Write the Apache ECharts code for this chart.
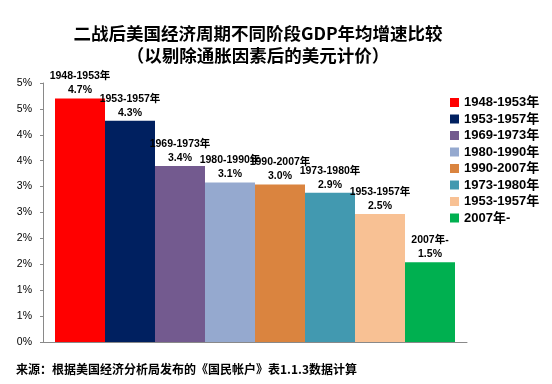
<!DOCTYPE html>
<html>
<head>
<meta charset="utf-8">
<script src="https://cdn.jsdelivr.net/npm/echarts@6/dist/echarts.min.js"></script>
<style>html,body{margin:0;padding:0;background:#fff}#c{width:552px;height:384px}</style>
</head>
<body>
<div id="c"></div>
<script>
// Period names (the duplicate "1953-1957年" is kept distinct with a trailing space)
const periods = ['1948-1953年', '1953-1957年', '1969-1973年', '1980-1990年', '1990-2007年', '1973-1980年', '1953-1957年 ', '2007年-'];
// Average annual GDP growth (%)
const growth = [4.70, 4.27, 3.40, 3.08, 3.04, 2.88, 2.47, 1.54];
const colors = ['#FF0000', '#002060', '#735A8F', '#95A9CF', '#DA843F', '#4299B0', '#F8C194', '#00B050'];
const yTicks = [0, 0.5, 1, 1.5, 2, 2.5, 3, 3.5, 4, 4.5, 5];
const titleText = '二战后美国经济周期不同阶段GDP年均增速比较\n（以剔除通胀因素后的美元计价）';
const sourceText = '来源：根据美国经济分析局发布的《国民帐户》表1.1.3数据计算';

const latin = '"Liberation Sans", "Noto Sans CJK SC", sans-serif';
const cjk = '"Noto Sans CJK SC", sans-serif';

const chart = echarts.init(document.getElementById('c'), null, {renderer: 'canvas'});
chart.setOption({
  animation: false,
  backgroundColor: '#fff',
  title: [{
    text: titleText,
    left: 258,
    top: 22,
    textAlign: 'center',
    padding: 0,
    textStyle: {fontFamily: cjk, fontSize: 17.5, fontWeight: 'bold', color: '#000', lineHeight: 22}
  }, {
    text: sourceText,
    left: 16,
    top: 363,
    padding: 0,
    textStyle: {fontFamily: cjk, fontSize: 12, fontWeight: 'bold', color: '#000'}
  }],
  legend: {
    orient: 'vertical',
    left: 450,
    top: 96,
    itemWidth: 9,
    itemHeight: 9,
    itemGap: 3.5,
    icon: 'rect',
    padding: 0,
    data: periods,
    textStyle: {fontFamily: latin, fontSize: 13, fontWeight: 'bold', color: '#000'}
  },
  grid: {left: 43, top: 83, right: 85, bottom: 42, containLabel: false},
  xAxis: {
    type: 'category',
    data: [''],
    axisLine: {show: true, lineStyle: {color: '#898989', width: 1}},
    axisTick: {show: false},
    axisLabel: {show: false},
    splitLine: {show: false}
  },
  yAxis: {
    type: 'value',
    min: yTicks[0],
    max: yTicks[yTicks.length - 1],
    interval: 0.5,
    axisLine: {show: true, lineStyle: {color: '#898989', width: 1}},
    axisTick: {show: true, length: 3, lineStyle: {color: '#898989'}},
    splitLine: {show: false},
    axisLabel: {
      margin: 11,
      fontFamily: latin,
      fontSize: 10.5,
      color: '#000',
      formatter: v => Math.round(v) + '%'
    }
  },
  series: periods.map((p, i) => ({
    type: 'bar',
    name: p,
    data: [growth[i]],
    barWidth: 50,
    barGap: '0%',
    itemStyle: {color: colors[i]},
    label: {
      show: true,
      position: 'top',
      distance: 1,
      fontFamily: latin,
      fontSize: 10.5,
      fontWeight: 'bold',
      color: '#000',
      lineHeight: 14,
      formatter: prm => prm.seriesName.trim() + '\n' + prm.value.toFixed(1) + '%'
    }
  }))
});
</script>
</body>
</html>
